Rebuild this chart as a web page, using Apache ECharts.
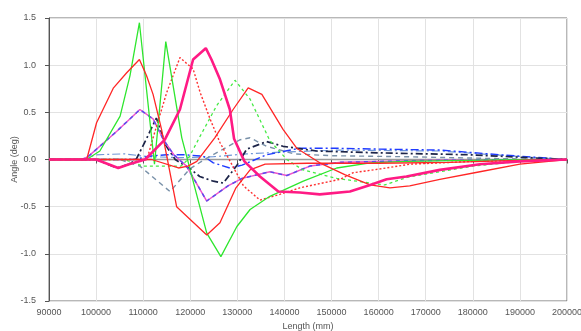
<!DOCTYPE html>
<html>
<head>
<meta charset="utf-8">
<script src="https://cdn.jsdelivr.net/npm/echarts@6/dist/echarts.min.js"></script>
<style>
  html, body { margin: 0; padding: 0; background: #ffffff; }
  #chart { width: 581px; height: 331px; }
</style>
</head>
<body>
<div id="chart"></div>
<script>
// ---- Data (Length in mm, Angle in deg) ----
const xTicks = [90000, 100000, 110000, 120000, 130000, 140000, 150000, 160000, 170000, 180000, 190000, 200000];
const yTicks = [-1.5, -1.0, -0.5, 0.0, 0.5, 1.0, 1.5];

const redA_x = [90000, 98000, 100100, 103700, 106500, 109200, 110700, 112100, 113900, 117100, 123500, 126300, 129700, 132700, 135900, 145000, 160000, 175000, 190000, 200000];
const redA_y = [0, 0, 0.39, 0.76, 0.92, 1.06, 0.89, 0.69, 0.32, -0.50, -0.80, -0.67, -0.30, -0.11, -0.05, -0.04, -0.04, -0.03, -0.01, 0];

const redB_x = [90000, 111800, 117500, 119500, 121400, 125200, 129100, 132300, 135200, 139700, 142600, 147500, 152800, 158200, 162400, 166600, 173000, 181500, 190000, 200000];
const redB_y = [0, 0, -0.09, -0.07, -0.02, 0.23, 0.53, 0.76, 0.69, 0.32, 0.12, -0.035, -0.16, -0.27, -0.30, -0.28, -0.21, -0.13, -0.05, 0];

const pink_x = [90000, 100000, 104700, 107000, 110400, 114600, 117800, 120600, 123300, 124500, 126300, 128400, 129300, 131500, 134800, 138700, 143300, 147500, 153900, 158200, 161700, 165900, 173000, 181500, 190000, 200000];
const pink_y = [0, 0, -0.09, -0.05, 0, 0.21, 0.53, 1.06, 1.18, 1.06, 0.85, 0.53, 0.22, -0.02, -0.18, -0.34, -0.35, -0.37, -0.34, -0.27, -0.21, -0.18, -0.11, -0.05, -0.02, 0];

const green_x = [90000, 98000, 100800, 105100, 107200, 109200, 112400, 114800, 118200, 123500, 126500, 129900, 132700, 136900, 144000, 151100, 158200, 165900, 185800, 200000];
const green_y = [0, 0, 0.09, 0.46, 0.89, 1.45, -0.05, 1.25, 0.23, -0.78, -1.03, -0.71, -0.53, -0.39, -0.23, -0.09, -0.035, -0.02, -0.005, 0];

const redDot_x = [90000, 110800, 112100, 115000, 117800, 120600, 122100, 124200, 126300, 131300, 134800, 139000, 143300, 151800, 154600, 160300, 166600, 180000, 200000];
const redDot_y = [0, 0, 0.23, 0.71, 1.08, 0.96, 0.71, 0.43, 0.18, -0.28, -0.43, -0.37, -0.30, -0.21, -0.14, -0.10, -0.05, -0.02, 0];

const greenDash_x = [90000, 106000, 110000, 118000, 119500, 121700, 125600, 129500, 132700, 136900, 140500, 143900, 151100, 158200, 161300, 166000, 169400, 180000, 190000, 200000];
const greenDash_y = [0, 0, -0.07, -0.07, 0, 0.21, 0.57, 0.84, 0.64, 0.20, 0, -0.11, -0.20, -0.25, -0.27, -0.19, -0.16, -0.07, -0.02, 0];

const violet_x = [90000, 97000, 98300, 104400, 109300, 112100, 114300, 116500, 119200, 123500, 128000, 131000, 136900, 140500, 145400, 152000, 170000, 200000];
const violet_y = [0, 0, 0.03, 0.30, 0.53, 0.43, 0.21, 0.05, -0.07, -0.44, -0.28, -0.20, -0.13, -0.17, -0.07, -0.03, -0.01, 0];

const navy_x = [90000, 100000, 104400, 107000, 108500, 110500, 112800, 114800, 116800, 120000, 122000, 124900, 127000, 129800, 132000, 136200, 139700, 146800, 160300, 179400, 200000];
const navy_y = [0, 0, -0.09, -0.05, 0, 0.20, 0.44, 0.15, 0, -0.10, -0.18, -0.23, -0.25, -0.07, 0.11, 0.19, 0.14, 0.09, 0.07, 0.05, 0];

const blue_x = [90000, 108000, 112000, 115000, 119000, 122800, 124900, 128400, 131000, 136200, 143300, 150300, 160300, 173000, 185800, 200000];
const blue_y = [0, 0, 0.04, 0.05, 0.05, 0.035, -0.035, -0.09, -0.06, 0.05, 0.12, 0.12, 0.11, 0.10, 0.05, 0];

const slate_x = [90000, 105000, 109300, 115700, 119900, 123000, 127000, 130600, 132700, 136200, 142000, 150000, 165000, 185000, 200000];
const slate_y = [0, 0, -0.07, -0.34, -0.10, 0.0, 0.11, 0.21, 0.23, 0.14, 0.06, 0.04, 0.03, 0.01, 0];

const steel_x = [90000, 97000, 100000, 106000, 111000, 118000, 125000, 132000, 140000, 151800, 173000, 184300, 200000];
const steel_y = [0, 0, 0.05, 0.06, 0.03, 0.02, 0.03, 0.06, 0.08, 0.10, 0.09, 0.05, 0];

const zero_x = [90000, 200000];
const zero_y = [0, 0];

// ---- Build chart ----
function pairs(xs, ys) { return xs.map((x, i) => [x, ys[i]]); }

function line(name, xs, ys, color, width, type, z) {
  return {
    name: name, type: 'line', data: pairs(xs, ys),
    showSymbol: false, symbol: 'none', smooth: false, z: z || 2,
    lineStyle: { color: color, width: width, type: type || 'solid' },
    emphasis: { disabled: true }, silent: true
  };
}

const DASHDOT = [8, 3, 2, 3];

const series = [
  line('zero', zero_x, zero_y, '#9a9a9a', 1.5, 'solid', 1),
  line('steel', steel_x, steel_y, '#6f96d6', 1.2, DASHDOT, 2),
  line('slate', slate_x, slate_y, '#7890a8', 1.4, [5, 4], 2),
  line('blue', blue_x, blue_y, '#1f3bff', 1.4, DASHDOT, 2),
  line('navy', navy_x, navy_y, '#1c2448', 1.7, [7, 3, 2, 3], 2),
  line('violetPink', violet_x, violet_y, '#ee55cc', 1.5, 'solid', 2),
  line('violetBlue', violet_x, violet_y, '#5a4cee', 1.5, [4, 4], 3),
  line('greenDash', greenDash_x, greenDash_y, '#45ea45', 1.3, [3, 3], 3),
  line('redDot', redDot_x, redDot_y, '#ff3030', 1.4, [2, 2], 3),
  line('green', green_x, green_y, '#2ee62e', 1.3, 'solid', 3),
  line('redA', redA_x, redA_y, '#ff2626', 1.3, 'solid', 3),
  line('redB', redB_x, redB_y, '#ff2626', 1.3, 'solid', 3),
  line('pink', pink_x, pink_y, '#ff1a84', 2.6, 'solid', 4)
];

const chart = echarts.init(document.getElementById('chart'), null, { renderer: 'canvas' });
const labelFont = { fontFamily: '"Liberation Sans", Arial, sans-serif', fontSize: 9, color: '#555' };

chart.setOption({
  animation: false,
  backgroundColor: '#ffffff',
  grid: { left: 49, right: 14, top: 18, bottom: 30, show: true, borderColor: '#707070', borderWidth: 1, containLabel: false, outerBoundsMode: 'none' },
  xAxis: {
    type: 'value', min: xTicks[0], max: xTicks[xTicks.length - 1], interval: 10000,
    name: 'Length (mm)', nameLocation: 'middle', nameGap: 21, nameMoveOverlap: false,
    nameTextStyle: labelFont,
    axisLine: { show: true, lineStyle: { color: '#555', width: 1 } },
    axisTick: { show: true, inside: false, length: 4, lineStyle: { color: '#555' } },
    axisLabel: Object.assign({ margin: 7, formatter: v => String(v) }, labelFont),
    splitLine: { show: true, lineStyle: { color: '#e2e2e2', width: 1 } }
  },
  yAxis: {
    type: 'value', min: yTicks[0], max: yTicks[yTicks.length - 1], interval: 0.5,
    name: 'Angle (deg)', nameLocation: 'middle', nameGap: 30, nameRotate: 90, nameMoveOverlap: false,
    nameTextStyle: labelFont,
    axisLine: { show: true, onZero: false, lineStyle: { color: '#555', width: 1 } },
    axisTick: { show: true, inside: false, length: 4, lineStyle: { color: '#555' } },
    axisLabel: Object.assign({ margin: 13, formatter: v => v.toFixed(1) }, labelFont),
    splitLine: { show: true, lineStyle: { color: '#e2e2e2', width: 1 } }
  },
  series: series
});
</script>
</body>
</html>
